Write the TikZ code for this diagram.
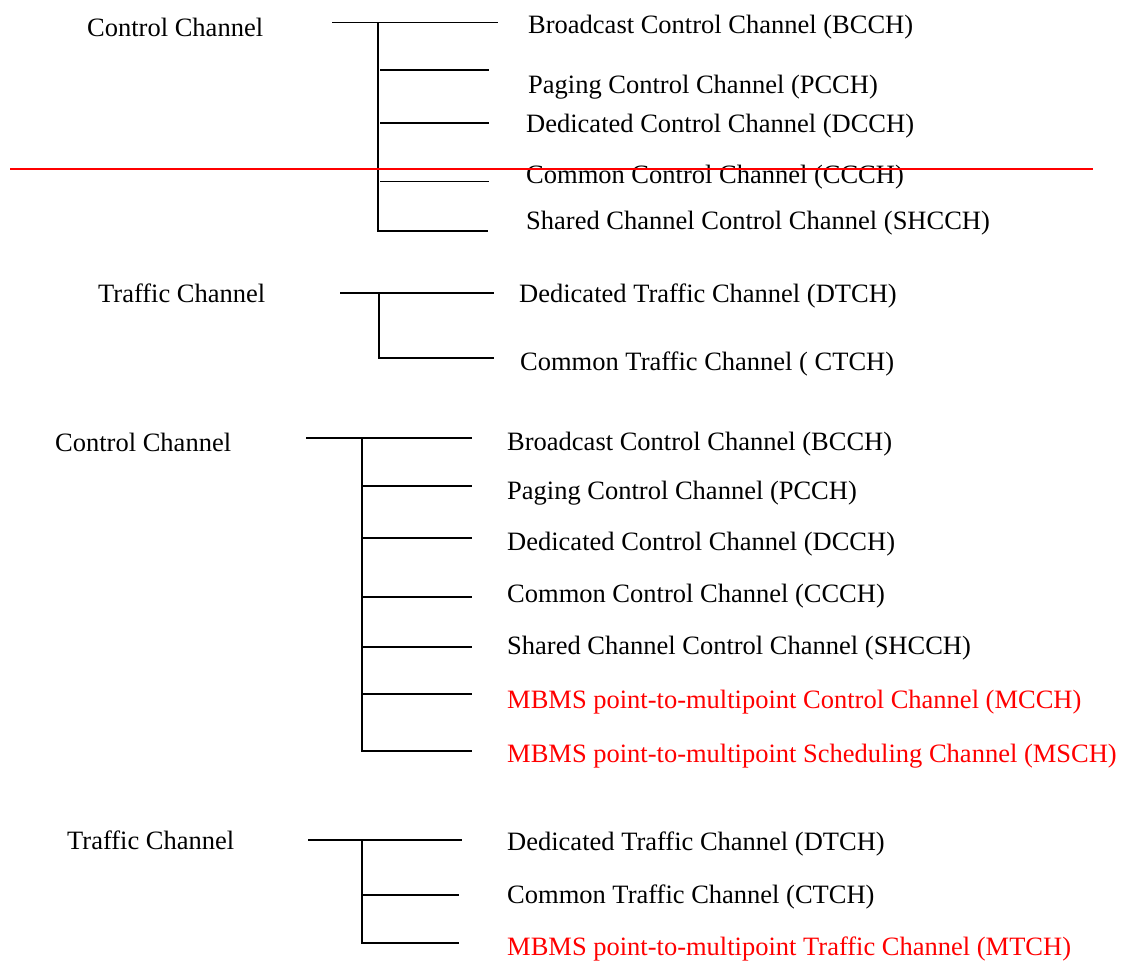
\documentclass[tikz,border=0pt]{standalone}
\usepackage{fontspec}
\setmainfont{Liberation Serif}
\begin{document}
\begin{tikzpicture}[x=1pt,y=-1pt,
  lbl/.style={anchor=base west,inner sep=0pt,font=\fontsize{26.5}{30}\selectfont},
  redlbl/.style={lbl,text=red},
  br/.style={line width=1.6pt,black},
  mark line/.style={line width=2.2pt,red}]
\useasboundingbox (0,0) rectangle (1121,961);

% ---------- Block 1 ----------
\node[lbl] (cc1) at (87,36) {Control Channel};
\node[lbl] (b1) at (528,33) {Broadcast Control Channel (BCCH)};
\node[lbl] (p1) at (528,93) {Paging Control Channel (PCCH)};
\node[lbl] (d1) at (526,132) {Dedicated Control Channel (DCCH)};
\node[lbl] (c1) at (526,183) {Common Control Channel (CCCH)};
\node[lbl] (s1) at (526,229) {Shared Channel Control Channel (SHCCH)};
\coordinate (t1a) at (332,22.5);
\coordinate (t1b) at (498,22.5);
\coordinate (v1t) at (378,22.5);
\coordinate (v1b) at (378,231);
\draw[br] (t1a) -- (t1b);
\draw[br] (v1t) -- (v1b) -- (488,231);
\draw[br] (380,70) -- (489,70);
\draw[br] (380,123) -- (489,123);
\draw[br] (380,181.5) -- (489,181.5);

% red mark line
\coordinate (r1) at (10,169);
\coordinate (r2) at (1093,169);
\draw[mark line] (r1) -- (r2);

% ---------- Block 2 ----------
\node[lbl] (tc2) at (98,302) {Traffic Channel};
\node[lbl] (dt2) at (519,302) {Dedicated Traffic Channel (DTCH)};
\node[lbl] (ct2) at (520,370) {Common Traffic Channel ( CTCH)};
\coordinate (v2t) at (379,293);
\coordinate (v2b) at (379,358);
\draw[br] (340,293) -- (494,293);
\draw[br] (v2t) -- (v2b) -- (494,358);

% ---------- Block 3 ----------
\node[lbl] (cc3) at (55,451) {Control Channel};
\node[lbl] (b3) at (507,450) {Broadcast Control Channel (BCCH)};
\node[lbl] (p3) at (507,499) {Paging Control Channel (PCCH)};
\node[lbl] (d3) at (507,550) {Dedicated Control Channel (DCCH)};
\node[lbl] (c3) at (507,602) {Common Control Channel (CCCH)};
\node[lbl] (s3) at (507,654) {Shared Channel Control Channel (SHCCH)};
\node[redlbl] (m3) at (507,708) {MBMS point-to-multipoint Control Channel (MCCH)};
\node[redlbl] (ms3) at (507,762) {MBMS point-to-multipoint Scheduling Channel (MSCH)};
\coordinate (v3t) at (362,438);
\coordinate (v3b) at (362,751);
\draw[br] (306,438) -- (472,438);
\draw[br] (v3t) -- (v3b) -- (472,751);
\foreach \yy in {486,538,597,647,694} \draw[br] (362,\yy) -- (472,\yy);

% ---------- Block 4 ----------
\node[lbl] (tc4) at (67,849) {Traffic Channel};
\node[lbl] (dt4) at (507,850) {Dedicated Traffic Channel (DTCH)};
\node[lbl] (ct4) at (507,903) {Common Traffic Channel (CTCH)};
\node[redlbl] (mt4) at (507,955) {MBMS point-to-multipoint Traffic Channel (MTCH)};
\coordinate (v4t) at (362,840);
\coordinate (v4b) at (362,943);
\draw[br] (308,840) -- (462,840);
\draw[br] (v4t) -- (v4b) -- (459,943);
\draw[br] (362,895) -- (459,895);
\end{tikzpicture}
\end{document}
